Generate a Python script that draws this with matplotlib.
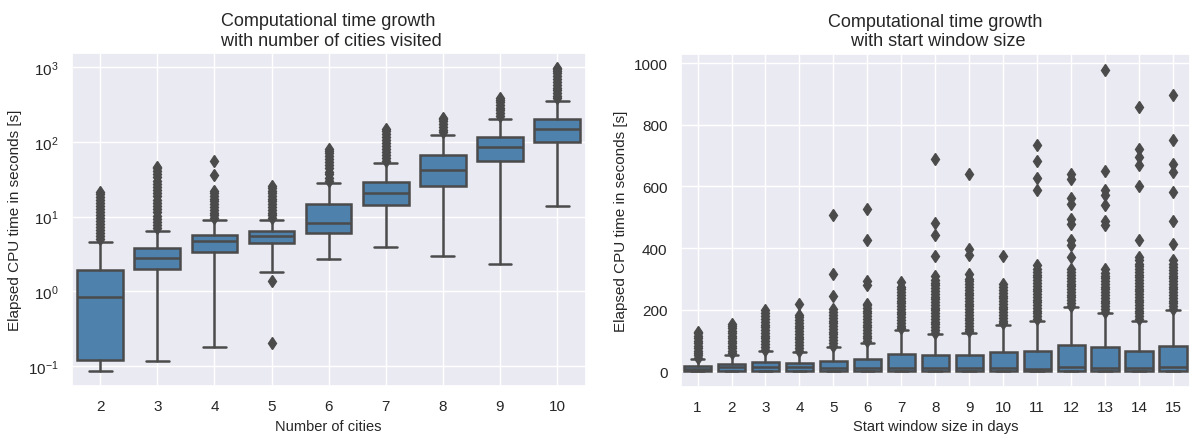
import numpy as np
import matplotlib
matplotlib.use("Agg")
import matplotlib.pyplot as plt
import seaborn as sns

# box summaries read per group: lower whisker, q1, median, q3, upper whisker
cities = [2, 3, 4, 5, 6, 7, 8, 9, 10]
cities_whislo = [0.085, 0.116, 0.178, 1.82, 2.71, 3.96, 3.0, 2.32, 13.7]
cities_q1 = [0.12, 2.0, 3.36, 4.44, 6.04, 14.4, 26.0, 55.0, 99.0]
cities_med = [0.84, 2.8, 4.66, 5.43, 8.1, 20.4, 42.4, 84.0, 147.0]
cities_q3 = [1.91, 3.84, 5.73, 6.34, 14.9, 29.0, 65.8, 116.0, 204.0]
cities_whishi = [4.57, 6.5, 9.0, 9.0, 27.8, 52.0, 124.0, 204.0, 351.0]
cities_fliers = [
    [5.0, 5.5, 6.0, 6.6, 7.2, 8.0, 8.8, 9.6, 10.5, 11.5, 12.6, 13.8, 15.2, 16.7, 18.4, 20.2, 21.3],
    [7.0, 7.7, 8.5, 9.4, 10.3, 11.4, 12.6, 13.9, 15.3, 16.9, 18.6, 20.5, 22.6, 25.0, 27.5, 30.3, 33.4, 36.8, 40.6, 44.0, 46.0],
    [9.6, 10.4, 11.3, 12.3, 13.4, 14.6, 15.9, 17.3, 18.8, 20.4, 22.0, 36.0, 56.0],
    [1.38, 0.206, 9.6, 10.4, 11.3, 12.3, 13.4, 14.6, 15.9, 17.3, 18.8, 20.4, 22.2, 24.2, 26.0],
    [30.0, 33.0, 36.5, 40.0, 44.0, 48.5, 53.0, 58.0, 64.0, 70.0, 76.0, 80.0],
    [56.0, 61.0, 67.0, 73.0, 80.0, 88.0, 96.0, 105.0, 115.0, 126.0, 138.0, 150.0],
    [133.0, 145.0, 158.0, 172.0, 188.0, 200.0, 210.0],
    [220.0, 240.0, 262.0, 286.0, 312.0, 340.0, 365.0, 380.0],
    [380.0, 410.0, 445.0, 485.0, 530.0, 580.0, 630.0, 690.0, 750.0, 820.0, 890.0, 950.0, 980.0],
]

windows = list(range(1, 16))
win_whislo = [0.5] * 15
win_q1 = [0.8, 0.8, 0.8, 0.8, 0.8, 0.8, 0.8, 0.8, 0.8, 0.8, 0.8, 0.8, 0.8, 0.8, 0.8]
win_med = [9.0, 14.0, 15.0, 14.0, 12.0, 12.0, 11.0, 11.0, 11.0, 10.0, 9.0, 14.0, 11.0, 11.0, 16.0]
win_q3 = [17.5, 25.0, 30.5, 28.0, 33.5, 39.0, 57.0, 52.0, 52.0, 63.0, 68.0, 87.0, 79.0, 68.0, 84.0]
win_whishi = [39.0, 55.0, 66.0, 63.0, 79.0, 93.0, 135.0, 121.0, 125.0, 151.0, 165.0, 208.0, 189.0, 165.0, 198.0]
win_fliers = [
    [44, 52, 60, 68, 76, 84, 92, 100, 108, 116, 124, 128],
    [60, 68, 76, 84, 92, 100, 108, 116, 124, 132, 140, 148, 155],
    [71, 80, 89, 98, 107, 116, 125, 134, 143, 152, 161, 170, 180, 190, 198],
    [68, 77, 86, 95, 104, 113, 122, 131, 140, 149, 158, 167, 176, 182, 220],
    [84, 93, 102, 111, 120, 129, 138, 147, 156, 165, 174, 183, 192, 203, 246, 317, 506],
    [98, 107, 116, 125, 134, 143, 152, 161, 170, 179, 188, 197, 206, 214, 220, 279, 292, 427, 528],
    [140, 149, 158, 167, 176, 185, 194, 203, 212, 221, 230, 239, 248, 257, 266, 275, 290],
    [126, 135, 144, 153, 162, 171, 180, 189, 198, 207, 216, 225, 234, 243, 252, 261, 270, 279, 288, 297, 311, 375, 443, 481, 690],
    [130, 139, 148, 157, 166, 175, 184, 193, 202, 211, 220, 229, 238, 247, 256, 265, 274, 283, 292, 301, 317, 378, 398, 639],
    [156, 165, 174, 183, 192, 201, 210, 219, 228, 237, 246, 255, 264, 273, 284, 375],
    [170, 179, 188, 197, 206, 215, 224, 233, 242, 251, 260, 269, 278, 287, 296, 305, 314, 323, 332, 346, 590, 627, 681, 733],
    [213, 222, 231, 240, 249, 258, 267, 276, 285, 294, 303, 312, 321, 333, 371, 411, 425, 479, 495, 542, 562, 625, 641],
    [194, 203, 212, 221, 230, 239, 248, 257, 266, 275, 284, 293, 302, 311, 320, 333, 474, 487, 539, 571, 587, 649, 979],
    [170, 179, 188, 197, 206, 215, 224, 233, 242, 251, 260, 269, 278, 287, 296, 305, 314, 323, 332, 341, 350, 360, 371, 425, 603, 668, 695, 720, 857],
    [203, 212, 221, 230, 239, 248, 257, 266, 275, 284, 293, 302, 311, 320, 329, 338, 347, 360, 414, 487, 582, 647, 674, 749, 895],
]

BOX_COLOR = "#4f81ad"
LINE_COLOR = "#4b4b4b"


def make_stats(labels, lo, q1, med, q3, hi, fliers):
    stats = []
    for i in range(len(labels)):
        stats.append(dict(label=str(labels[i]), whislo=lo[i], q1=q1[i], med=med[i],
                          q3=q3[i], whishi=hi[i], fliers=np.array(fliers[i], dtype=float)))
    return stats


def draw_boxes(ax, stats):
    line = dict(color=LINE_COLOR, linewidth=1.8)
    ax.bxp(stats, positions=range(len(stats)), widths=0.8, patch_artist=True,
           boxprops=dict(facecolor=BOX_COLOR, edgecolor=LINE_COLOR, linewidth=1.8),
           medianprops=line, whiskerprops=line, capprops=line,
           flierprops=dict(marker="d", markersize=6, markerfacecolor=LINE_COLOR,
                           markeredgecolor=LINE_COLOR, linestyle="none"))
    ax.set_xlim(-0.5, len(stats) - 0.5)


sns.set_theme(style="darkgrid")
plt.rcParams["font.family"] = ["Liberation Sans", "DejaVu Sans"]

fig = plt.figure(figsize=(11.94, 4.35), dpi=100)
ax1 = fig.add_axes([0.060, 0.110, 0.4305, 0.766])
ax2 = fig.add_axes([0.570, 0.109, 0.4266, 0.765])

draw_boxes(ax1, make_stats(cities, cities_whislo, cities_q1, cities_med, cities_q3,
                           cities_whishi, cities_fliers))
ax1.set_yscale("log")
ax1.set_ylim(10 ** -1.267, 10 ** 3.187)
ax1.yaxis.set_minor_locator(matplotlib.ticker.NullLocator())
ax1.set_title("Computational time growth\n with number of cities visited", fontsize=13)
ax1.set_xlabel("Number of cities", fontsize=10.5)
ax1.set_ylabel("Elapsed CPU time in seconds [s]", fontsize=11)

draw_boxes(ax2, make_stats(windows, win_whislo, win_q1, win_med, win_q3,
                           win_whishi, win_fliers))
ax2.set_ylim(-49, 1030)
ax2.set_title("Computational time growth\n with start window size", fontsize=13)
ax2.set_xlabel("Start window size in days", fontsize=10.5)
ax2.set_ylabel("Elapsed CPU time in seconds [s]", fontsize=11)

fig.savefig("out.png", dpi=100)
